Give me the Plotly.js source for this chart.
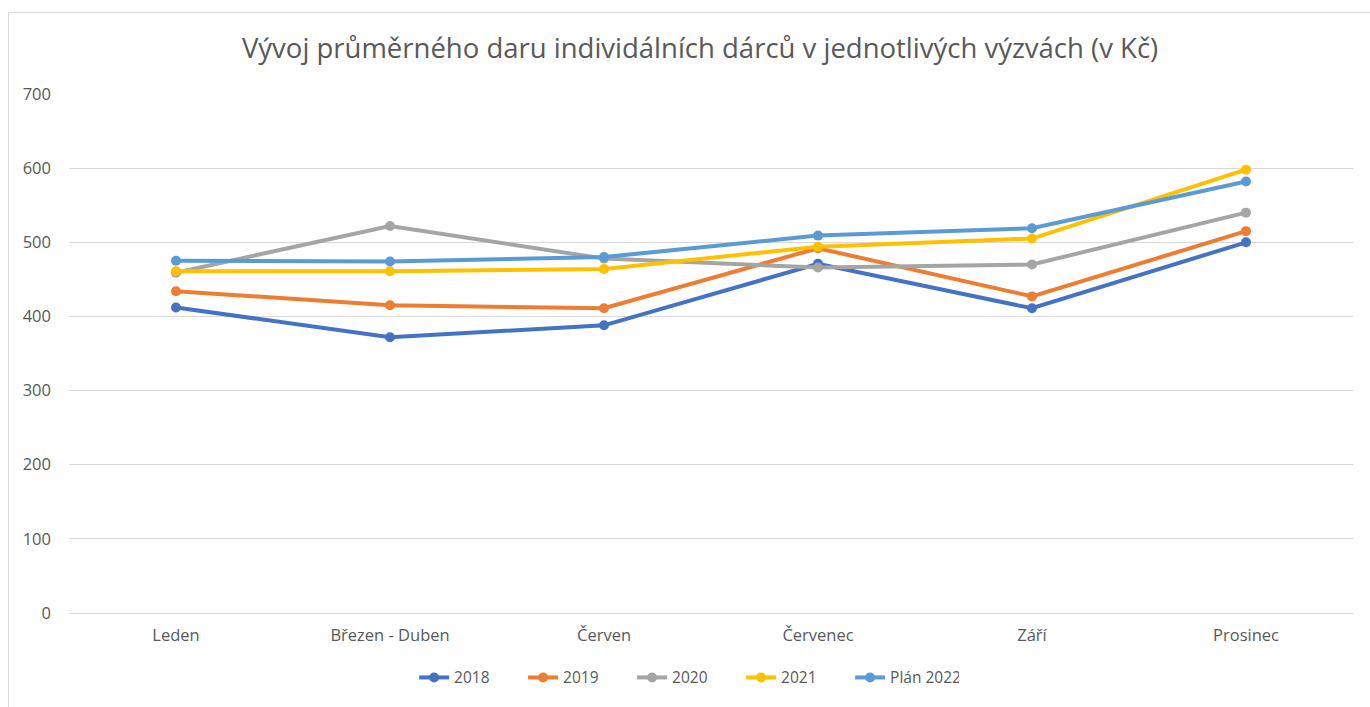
<!DOCTYPE html>
<html>
<head>
<meta charset="utf-8">
<script src="https://cdn.plot.ly/plotly-3.0.1.min.js"></script>
<style>
html,body{margin:0;padding:0;background:#fff;overflow:hidden;}
#chart{width:1370px;height:707px;position:absolute;left:0;top:0;}
#frame{position:absolute;left:8px;top:12px;width:1400px;height:720px;border-left:1px solid #d9d9d9;border-top:1px solid #d9d9d9;pointer-events:none;}
</style>
</head>
<body>
<div id="chart"></div>
<div id="frame"></div>
<script>
const categories = ["Leden", "Březen - Duben", "Červen", "Červenec", "Září", "Prosinec"];
const seriesNames = ["2018", "2019", "2020", "2021", "Plán 2022"];
const v2018 = [412, 372, 388, 471, 411, 500];
const v2019 = [434, 415, 411, 492, 427, 515];
const v2020 = [459, 522, 478, 466, 470, 540];
const v2021 = [461, 461, 464, 494, 505, 598];
const v2022 = [475, 474, 480, 509, 519, 582];
const yTicks = [0, 100, 200, 300, 400, 500, 600, 700];

const colors = ["#4472C4", "#ED7D31", "#A5A5A5", "#FFC000", "#5B9BD5"];
const allValues = [v2018, v2019, v2020, v2021, v2022];

const font = "'Open Sans', 'Noto Sans', sans-serif";
const traces = allValues.map((vals, i) => ({
  x: categories,
  y: vals,
  name: seriesNames[i],
  type: "scatter",
  mode: "lines+markers",
  line: {color: colors[i], width: 4},
  marker: {color: colors[i], size: 10},
  cliponaxis: false
}));

const layout = {
  width: 1370,
  height: 707,
  paper_bgcolor: "#ffffff",
  plot_bgcolor: "#ffffff",
  margin: {l: 69, r: 17, t: 94, b: 94},
  font: {family: font, color: "#595959", size: 12},
  title: {
    text: "Vývoj průměrného daru individálních dárců v jednotlivých výzvách (v Kč)",
    font: {family: font, size: 27.5, color: "#595959"},
    xref: "container", x: 0.511, xanchor: "center", y: 0.932, yanchor: "middle"
  },
  xaxis: {
    type: "category",
    showgrid: false,
    zeroline: false,
    showline: false,
    ticks: "",
    tickfont: {family: font, size: 16.5, color: "#595959"},
    ticklabelstandoff: 10,
    range: [-0.5, 5.5]
  },
  yaxis: {
    range: [0, 700],
    tickvals: yTicks,
    showgrid: true,
    gridcolor: "#d9d9d9",
    gridwidth: 1,
    zeroline: true,
    zerolinecolor: "#d9d9d9",
    zerolinewidth: 1,
    showline: false,
    ticks: "",
    tickfont: {family: font, size: 16.5, color: "#595959"},
    ticklabelstandoff: 17
  },
  legend: {
    orientation: "h",
    x: 0.481, xanchor: "center",
    y: -0.125, yanchor: "middle",
    font: {family: font, size: 15.5, color: "#595959"},
    itemwidth: 30,
    entrywidth: 64,
    entrywidthmode: "pixels",
    traceorder: "normal"
  },
  showlegend: true
};

Plotly.newPlot("chart", traces, layout, {displayModeBar: false, staticPlot: true});
</script>
</body>
</html>
